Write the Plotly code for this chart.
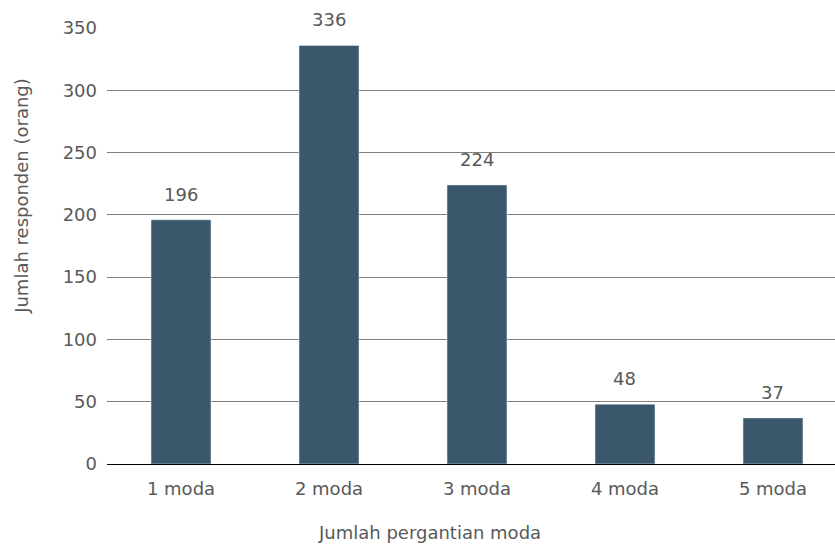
import plotly.graph_objects as go

categories = ["1 moda", "2 moda", "3 moda", "4 moda", "5 moda"]
values = [196, 336, 224, 48, 37]
y_ticks = [0, 50, 100, 150, 200, 250, 300, 350]

font_family = "DejaVu Sans, sans-serif"
text_color = "#595959"
fsize = 18

fig = go.Figure(
    go.Bar(
        x=categories,
        y=values,
        marker_color="#3a576c",
        cliponaxis=False,
    )
)

# data labels above bars
for c, v in zip(categories, values):
    fig.add_annotation(
        x=c, y=v, xref="x", yref="y",
        text=str(v), showarrow=False,
        yanchor="bottom", yshift=13,
        font=dict(size=fsize, color=text_color, family=font_family),
    )

# axis titles (plot area spans screen x 107..835, y 28..464)
fig.add_annotation(
    x=(429 - 107) / 728, y=-0.158, xref="paper", yref="paper",
    text="Jumlah pergantian moda", showarrow=False,
    xanchor="center", yanchor="middle",
    font=dict(size=fsize, color=text_color, family=font_family),
)
fig.add_annotation(
    x=(22 - 107) / 728, y=0.615, xref="paper", yref="paper",
    text="Jumlah responden (orang)", showarrow=False, textangle=-90,
    xanchor="center", yanchor="middle",
    font=dict(size=fsize, color=text_color, family=font_family),
)

fig.update_layout(
    width=835,
    height=547,
    margin=dict(l=107, r=0, t=28, b=83),
    plot_bgcolor="white",
    paper_bgcolor="white",
    bargap=0.595,
    font=dict(family=font_family, size=fsize, color=text_color),
    showlegend=False,
)

fig.update_xaxes(
    range=[-0.5, 4.419],
    showgrid=False,
    showline=False,
    ticks="",
    ticklabelstandoff=12,
    tickfont=dict(size=fsize, color=text_color),
)

fig.update_yaxes(
    range=[0, 350],
    tickvals=y_ticks,
    showgrid=True,
    gridcolor="#7f7f7f",
    gridwidth=1,
    zeroline=True,
    zerolinecolor="#000000",
    zerolinewidth=1,
    ticks="",
    ticklabelstandoff=9,
    tickfont=dict(size=fsize, color=text_color),
)

fig.write_html(
    "out.html",
    config={"displayModeBar": False},
    post_script="document.body.style.margin='0';document.body.style.overflow='hidden';",
)
